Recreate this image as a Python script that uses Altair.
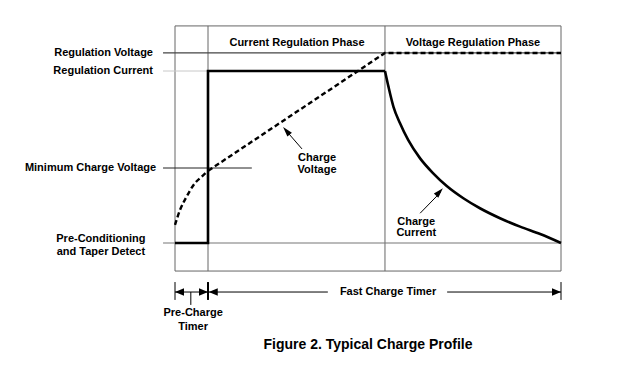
import altair as alt
import pandas as pd

# Time axis: 0 = start of charge, 100 = end of fast charge.
# Level axis: 0 = pre-conditioning level, 100 = regulation current level.
T_PRECHARGE_END = 8.55
T_PHASE_SPLIT = 54.4
T_END = 100.0
V_BOX_TOP = 126.2
V_BOX_BOTTOM = -16.3
V_TIMER = -28.5

LEVEL_LABELS = ["Regulation Voltage", "Regulation Current", "Minimum Charge Voltage"]
LEVEL_VALUES = [110.5, 100.0, 43.6]
PRECOND_LABELS = ["Pre-Conditioning", "and Taper Detect"]
PHASE_LABELS = ["Current Regulation Phase", "Voltage Regulation Phase"]

# charge current: pre-charge step, constant current, then taper
step_t = [0, 8.55, 8.55, 54.4]
step_v = [0, 0, 100, 100]
decay_t = [54.4, 55.3, 56.6, 58.3, 60.4, 63.5, 66.9, 70.4, 74.7, 79.0, 84.2, 89.4, 94.6, 100]
decay_v = [100, 90.9, 79.2, 69.6, 59.9, 49.2, 40.5, 33.1, 26.0, 20.2, 14.4, 9.5, 5.2, 0]

# charge voltage: pre-charge rise, linear rise, then regulation
vrise_t = [0, 1.3, 3.0, 5.2, 6.9, 8.6]
vrise_v = [10.5, 19.2, 26.9, 34.9, 38.5, 42.0]
vlin_t = [8.6, 54.4, 100]
vlin_v = [42.0, 110.5, 110.5]

XS = alt.Scale(domain=[0, 100], range=[167, 553], nice=False, zero=False)
YS = alt.Scale(domain=[0, 100], range=[235, 63], nice=False, zero=False)


def X(f):
    return alt.X(f, type="quantitative", scale=XS, axis=None)


def Y(f):
    return alt.Y(f, type="quantitative", scale=YS, axis=None)


def rules(rows, color, width=1.0):
    df = pd.DataFrame(rows, columns=["t1", "t2", "v1", "v2"])
    return alt.Chart(df).mark_rule(color=color, strokeWidth=width).encode(
        x=X("t1"), x2="t2", y=Y("v1"), y2="v2"
    )


def line(ts, vs, interp, dash=None, width=2.6):
    df = pd.DataFrame({"t": ts, "v": vs, "o": list(range(len(ts)))})
    kw = dict(color="black", strokeWidth=width, interpolate=interp, strokeCap="butt")
    if dash:
        kw["strokeDash"] = dash
    return alt.Chart(df).mark_line(**kw).encode(x=X("t"), y=Y("v"), order="o:Q")


def texts(ts, vs, labels, align, size=11):
    df = pd.DataFrame({"t": ts, "v": vs, "label": labels})
    return alt.Chart(df).mark_text(
        align=align, baseline="middle", font="Liberation Sans", fontWeight="bold",
        fontSize=size, color="black"
    ).encode(x=X("t"), y=Y("v"), text="label:N")


def heads(ts, vs, angles, path, size):
    df = pd.DataFrame({"t": ts, "v": vs, "a": angles})
    return alt.Chart(df).mark_point(
        shape=path, filled=True, color="black", size=size, opacity=1, strokeWidth=0
    ).encode(x=X("t"), y=Y("v"), angle=alt.Angle("a:Q", scale=None))


frame = rules([
    [0, T_END, V_BOX_TOP, V_BOX_TOP],
    [0, T_END, V_BOX_BOTTOM, V_BOX_BOTTOM],
    [0, 0, V_BOX_BOTTOM, V_BOX_TOP],
    [T_END, T_END, V_BOX_BOTTOM, V_BOX_TOP],
    [T_PRECHARGE_END, T_PRECHARGE_END, V_BOX_BOTTOM, V_BOX_TOP],
    [T_PHASE_SPLIT, T_PHASE_SPLIT, V_BOX_BOTTOM, V_BOX_TOP],
], "#666666")
precond = rules([[-3.1, T_END, 0, 0]], "#777777", 1.2)
header = rules([[-3.1, T_END, 110.5, 110.5]], "#444444", 1.2)
regcur = rules([[-3.1, T_PRECHARGE_END, 100, 100]], "#c8c8c8", 1)
minv = rules([[-3.1, 19.9, 43.6, 43.6]], "#222222", 1)

timer_lines = rules([
    [0, T_PRECHARGE_END, V_TIMER, V_TIMER],
    [T_PRECHARGE_END, 39.6, V_TIMER, V_TIMER],
    [70.5, T_END, V_TIMER, V_TIMER],
    [4.1, 4.1, V_TIMER, -36.0],
    [0, 0, -22.7, -33.1],
    [T_END, T_END, -22.7, -33.1],
], "black", 1)
mid_tick = rules([[T_PRECHARGE_END, T_PRECHARGE_END, -22.7, -33.1]], "black", 2)

ann_lines = rules([
    [32.9, 28.6, 54.7, 65.8],
    [63.5, 68.8, 17.3, 29.5],
], "black", 1)

TIMER_HEAD = "M0,0L0.85,2L-0.85,2Z"
ANN_HEAD = "M0,0L0.6,2L-0.6,2Z"

timer_heads = heads([0, T_PRECHARGE_END, T_PRECHARGE_END + 0.2, T_END],
                    [V_TIMER] * 4, [270, 90, 270, 90], TIMER_HEAD, 81)
ann_heads = heads([28.0, 69.4], [67.4, 31.8], [319, 43], ANN_HEAD, 100)

layers = [
    frame, precond, header, regcur, minv,
    line(step_t, step_v, "linear"),
    line(decay_t, decay_v, "monotone"),
    line(vrise_t, vrise_v, "monotone", dash=[5, 3], width=2.4),
    line(vlin_t, vlin_v, "linear", dash=[5, 3], width=2.4),
    timer_lines, mid_tick, ann_lines, timer_heads, ann_heads,
    texts([-5.7, -5.7, -4.9], LEVEL_VALUES, LEVEL_LABELS, "right"),
    texts([-19.2, -19.2], [2.3, -5.2], PRECOND_LABELS, "center"),
    texts([31.6, 77.2], [116.3, 116.3], PHASE_LABELS, "center"),
    texts([36.8, 36.8, 62.5, 62.5], [49.4, 42.4, 12.5, 6.0],
          ["Charge", "Voltage", "Charge", "Current"], "center"),
    texts([4.7, 4.7], [-40.7, -48.8], ["Pre-Charge", "Timer"], "center"),
    texts([55.2], [V_TIMER], ["Fast Charge Timer"], "center"),
    texts([50.0], [-59.3], ["Figure 2. Typical Charge Profile"], "center", 14),
]

chart = alt.layer(*layers).properties(
    width=604, height=349, padding=0,
    autosize=alt.AutoSizeParams(type="none"),
).configure_view(stroke=None)

chart.save("out.html", embed_options={"renderer": "svg", "actions": False})
